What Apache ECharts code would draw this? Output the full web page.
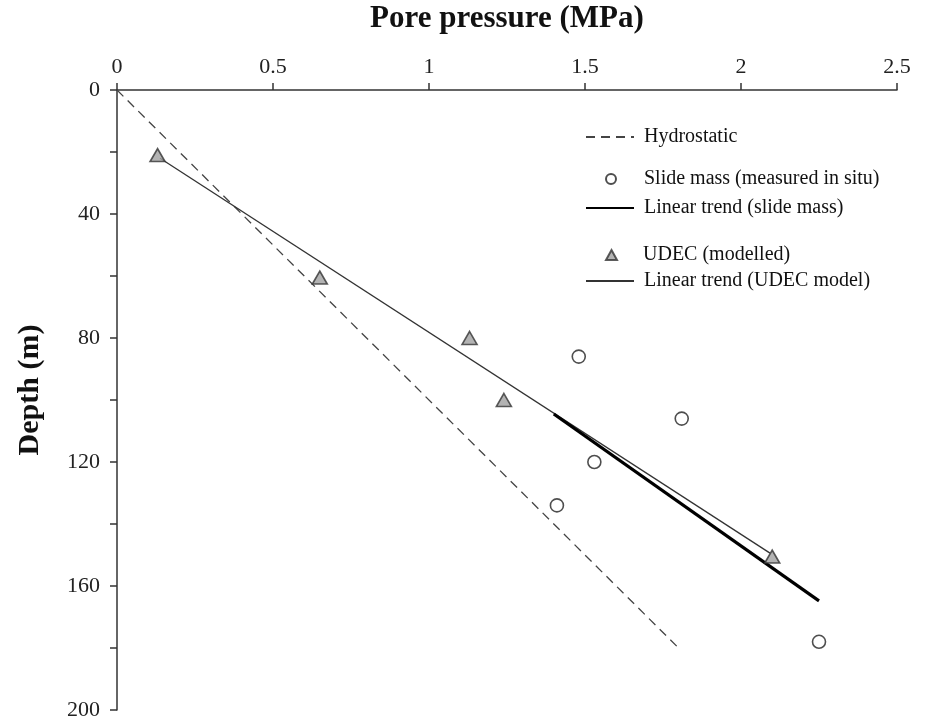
<!DOCTYPE html>
<html>
<head>
<meta charset="utf-8">
<script src="https://cdn.jsdelivr.net/npm/echarts@6/dist/echarts.min.js"></script>
<style>
  html, body { margin: 0; padding: 0; background: #fff; }
  #chart { width: 939px; height: 723px; }
</style>
</head>
<body>
<div id="chart"></div>
<script>
// Pore pressure (MPa) vs depth (m)
const xTicks = [0, 0.5, 1, 1.5, 2, 2.5];
const depthTicks = [0, 40, 80, 120, 160, 200];

// Hydrostatic gradient: [pressure, depth]
const hydrostatic = [[0, 0], [1.8, 180]];

// Slide mass, measured in situ
const slidePressure = [1.48, 1.81, 1.53, 1.41, 2.25];
const slideDepth = [86, 106, 120, 134, 178];

// Linear trend fitted to the slide mass points
const slideTrend = [[1.40, 104.5], [2.25, 164.8]];

// UDEC modelled pore pressure
const udecPressure = [0.13, 0.65, 1.13, 1.24, 2.10];
const udecDepth = [21, 60.5, 80, 100, 150.5];

// Linear trend fitted to the UDEC points
const udecTrend = [[0.138, 22], [2.093, 149.4]];

const pair = (xs, ys) => xs.map((v, i) => [v, ys[i]]);

const serif = '"Liberation Serif", "DejaVu Serif", serif';
const axisColor = '#333';

const chart = echarts.init(document.getElementById('chart'));

// Legend entries are stacked individually so the groups can be spaced apart.
const lineLegend = (name, top) => ({
  orient: 'vertical',
  left: 580,
  top: top,
  itemWidth: 48,
  itemHeight: 14,
  selectedMode: false,
  data: [{ name: name, itemStyle: { opacity: 0 } }],
  textStyle: { fontFamily: serif, fontSize: 20, color: '#111', padding: [0, 0, 0, 5] }
});
const markLegend = (name, top, w, h, pad) => ({
  orient: 'vertical',
  left: 600,
  top: top,
  itemWidth: w,
  itemHeight: h,
  selectedMode: false,
  data: [name],
  textStyle: { fontFamily: serif, fontSize: 20, color: '#111', padding: [0, 0, 0, pad] }
});

chart.setOption({
  animation: false,
  backgroundColor: '#fff',
  grid: { left: 117, top: 90, right: 42, bottom: 13, containLabel: false, outerBoundsMode: 'none' },
  legend: [
    lineLegend('Hydrostatic', 122),
    markLegend('Slide mass (measured in situ)', 164, 10, 10, 23),
    lineLegend('Linear trend (slide mass)', 193),
    markLegend('UDEC (modelled)', 240, 11, 10, 21),
    lineLegend('Linear trend (UDEC model)', 266)
  ],
  xAxis: {
    type: 'value',
    position: 'top',
    min: 0, max: 2.5, interval: 0.5,
    name: 'Pore pressure (MPa)',
    nameLocation: 'middle',
    nameGap: 56,
    nameTextStyle: { fontFamily: serif, fontSize: 31, fontWeight: 'bold', color: '#111' },
    axisLine: { show: true, lineStyle: { color: axisColor, width: 1.5 } },
    axisTick: { show: true, inside: false, length: 7, lineStyle: { color: axisColor, width: 1.5 } },
    axisLabel: {
      fontFamily: serif, fontSize: 22, color: '#222', margin: 12,
      formatter: v => xTicks.includes(+v.toFixed(2)) ? String(+v.toFixed(2)) : ''
    },
    splitLine: { show: false }
  },
  yAxis: {
    type: 'value',
    inverse: true,
    min: 0, max: 200, interval: 20,
    name: 'Depth (m)',
    nameLocation: 'middle',
    nameGap: 72,
    nameRotate: 90,
    nameTextStyle: { fontFamily: serif, fontSize: 30, fontWeight: 'bold', color: '#111', padding: [0, 0, 0, 20] },
    axisLine: { show: true, lineStyle: { color: axisColor, width: 1.5 } },
    axisTick: { show: true, inside: false, length: 7, lineStyle: { color: axisColor, width: 1.5 } },
    axisLabel: {
      fontFamily: serif, fontSize: 22, color: '#222', margin: 17,
      formatter: v => depthTicks.includes(v) ? String(v) : ''
    },
    splitLine: { show: false }
  },
  series: [
    {
      name: 'Hydrostatic',
      type: 'line',
      data: hydrostatic,
      showSymbol: false,
      symbol: 'none',
      lineStyle: { color: '#444', width: 1.3, type: [9, 6] },
      itemStyle: { color: '#444' },
      z: 2
    },
    {
      name: 'Linear trend (UDEC model)',
      type: 'line',
      data: udecTrend,
      showSymbol: false,
      symbol: 'none',
      lineStyle: { color: '#333', width: 1.3 },
      itemStyle: { color: '#333' },
      z: 3
    },
    {
      name: 'Linear trend (slide mass)',
      type: 'line',
      data: slideTrend,
      showSymbol: false,
      symbol: 'none',
      lineStyle: { color: '#000', width: 3.2 },
      itemStyle: { color: '#000' },
      z: 4
    },
    {
      name: 'Slide mass (measured in situ)',
      type: 'scatter',
      data: pair(slidePressure, slideDepth),
      symbol: 'circle',
      symbolSize: 13,
      itemStyle: { color: '#fff', borderColor: '#222', borderWidth: 1.6 },
      z: 5
    },
    {
      name: 'UDEC (modelled)',
      type: 'scatter',
      data: pair(udecPressure, udecDepth),
      symbol: 'triangle',
      symbolSize: [15, 13],
      itemStyle: { color: '#a0a0a0', borderColor: '#333', borderWidth: 1.6 },
      z: 6
    }
  ]
});
</script>
</body>
</html>
